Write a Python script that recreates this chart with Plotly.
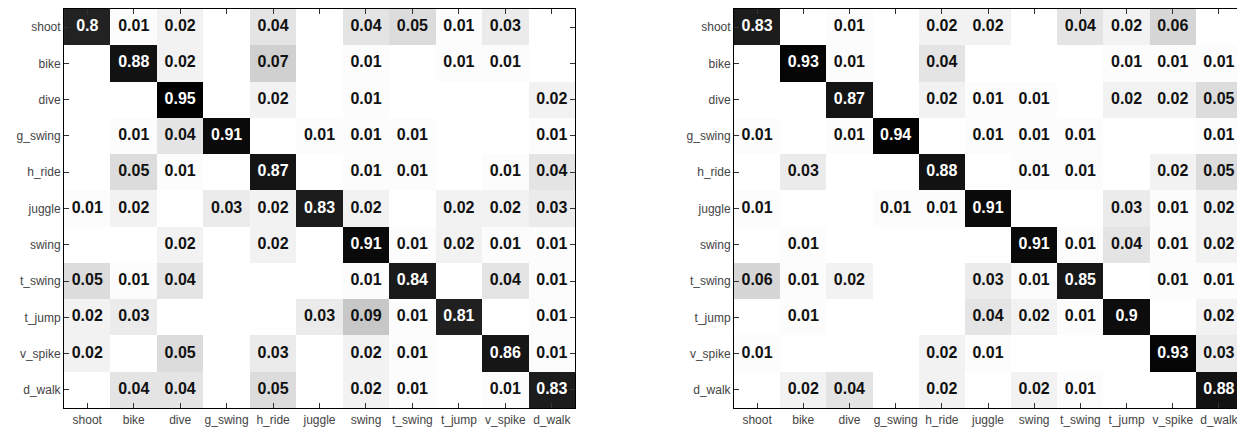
import plotly.graph_objects as go

labels = ["shoot", "bike", "dive", "g_swing", "h_ride", "juggle", "swing",
          "t_swing", "t_jump", "v_spike", "d_walk"]

# 0 = empty cell
left_matrix = [
    [0.80, 0.01, 0.02, 0,    0.04, 0,    0.04, 0.05, 0.01, 0.03, 0],
    [0,    0.88, 0.02, 0,    0.07, 0,    0.01, 0,    0.01, 0.01, 0],
    [0,    0,    0.95, 0,    0.02, 0,    0.01, 0,    0,    0,    0.02],
    [0,    0.01, 0.04, 0.91, 0,    0.01, 0.01, 0.01, 0,    0,    0.01],
    [0,    0.05, 0.01, 0,    0.87, 0,    0.01, 0.01, 0,    0.01, 0.04],
    [0.01, 0.02, 0,    0.03, 0.02, 0.83, 0.02, 0,    0.02, 0.02, 0.03],
    [0,    0,    0.02, 0,    0.02, 0,    0.91, 0.01, 0.02, 0.01, 0.01],
    [0.05, 0.01, 0.04, 0,    0,    0,    0.01, 0.84, 0,    0.04, 0.01],
    [0.02, 0.03, 0,    0,    0,    0.03, 0.09, 0.01, 0.81, 0,    0.01],
    [0.02, 0,    0.05, 0,    0.03, 0,    0.02, 0.01, 0,    0.86, 0.01],
    [0,    0.04, 0.04, 0,    0.05, 0,    0.02, 0.01, 0,    0.01, 0.83],
]

right_matrix = [
    [0.83, 0,    0.01, 0,    0.02, 0.02, 0,    0.04, 0.02, 0.06, 0],
    [0,    0.93, 0.01, 0,    0.04, 0,    0,    0,    0.01, 0.01, 0.01],
    [0,    0,    0.87, 0,    0.02, 0.01, 0.01, 0,    0.02, 0.02, 0.05],
    [0.01, 0,    0.01, 0.94, 0,    0.01, 0.01, 0.01, 0,    0,    0.01],
    [0,    0.03, 0,    0,    0.88, 0,    0.01, 0.01, 0,    0.02, 0.05],
    [0.01, 0,    0,    0.01, 0.01, 0.91, 0,    0,    0.03, 0.01, 0.02],
    [0,    0.01, 0,    0,    0,    0,    0.91, 0.01, 0.04, 0.01, 0.02],
    [0.06, 0.01, 0.02, 0,    0,    0.03, 0.01, 0.85, 0,    0.01, 0.01],
    [0,    0.01, 0,    0,    0,    0.04, 0.02, 0.01, 0.90, 0,    0.02],
    [0.01, 0,    0,    0,    0.02, 0.01, 0,    0,    0,    0.93, 0.03],
    [0,    0.02, 0.04, 0,    0.02, 0,    0.02, 0.01, 0,    0,    0.88],
]

gray_scale = [
    [0.0, "#ffffff"], [0.01, "#fcfcfc"], [0.02, "#f2f2f2"], [0.03, "#ebebeb"],
    [0.04, "#e4e4e4"], [0.05, "#dcdcdc"], [0.07, "#d0d0d0"], [0.10, "#c2c2c2"],
    [0.80, "#222222"], [0.88, "#121212"], [0.95, "#000000"], [1.0, "#000000"],
]


def fmt(v):
    return "" if v == 0 else ("%g" % v)


fig = go.Figure()
for i, m in enumerate([left_matrix, right_matrix]):
    xa = "x" if i == 0 else "x2"
    ya = "y" if i == 0 else "y2"
    fig.add_trace(go.Heatmap(
        z=m, x=labels, y=labels,
        colorscale=gray_scale, zmin=0, zmax=1, showscale=False,
        xaxis=xa, yaxis=ya, hoverinfo="skip",
    ))
    xs, ys, ts, cs = [], [], [], []
    for r, row in enumerate(m):
        for c, v in enumerate(row):
            if v == 0:
                continue
            xs.append(labels[c])
            ys.append(labels[r])
            ts.append(fmt(v))
            cs.append("#ffffff" if v >= 0.5 else "#111111")
    fig.add_trace(go.Scatter(
        x=xs, y=ys, text=ts, mode="text",
        textfont=dict(family="Liberation Sans", size=16, weight="bold", color=cs),
        xaxis=xa, yaxis=ya, hoverinfo="skip", showlegend=False,
    ))

axis_common = dict(
    showline=True, linecolor="black", linewidth=1, mirror="ticks",
    ticks="inside", ticklen=5, tickcolor="#333", showgrid=False, zeroline=False,
    tickfont=dict(family="Liberation Sans", size=12, color="#444"),
    fixedrange=True, type="category",
)

# page body has an 8px margin, so the figure is offset by 8px right and down
fig.update_layout(
    width=1237, height=419,
    margin=dict(l=0, r=0, t=1, b=17),
    paper_bgcolor="white", plot_bgcolor="white",
    xaxis=dict(domain=[0.0453, 0.4584], anchor="y", ticklabelstandoff=1,
               range=[-0.5, 10.5], **axis_common),
    yaxis=dict(domain=[0, 1], anchor="x", range=[10.5, -0.5], **axis_common),
    xaxis2=dict(domain=[0.5869, 0.9976], anchor="y2", ticklabelstandoff=1,
                range=[-0.5, 10.5], **axis_common),
    yaxis2=dict(domain=[0, 1], anchor="x2", range=[10.5, -0.5], **axis_common),
)

fig.write_html("out.html")
